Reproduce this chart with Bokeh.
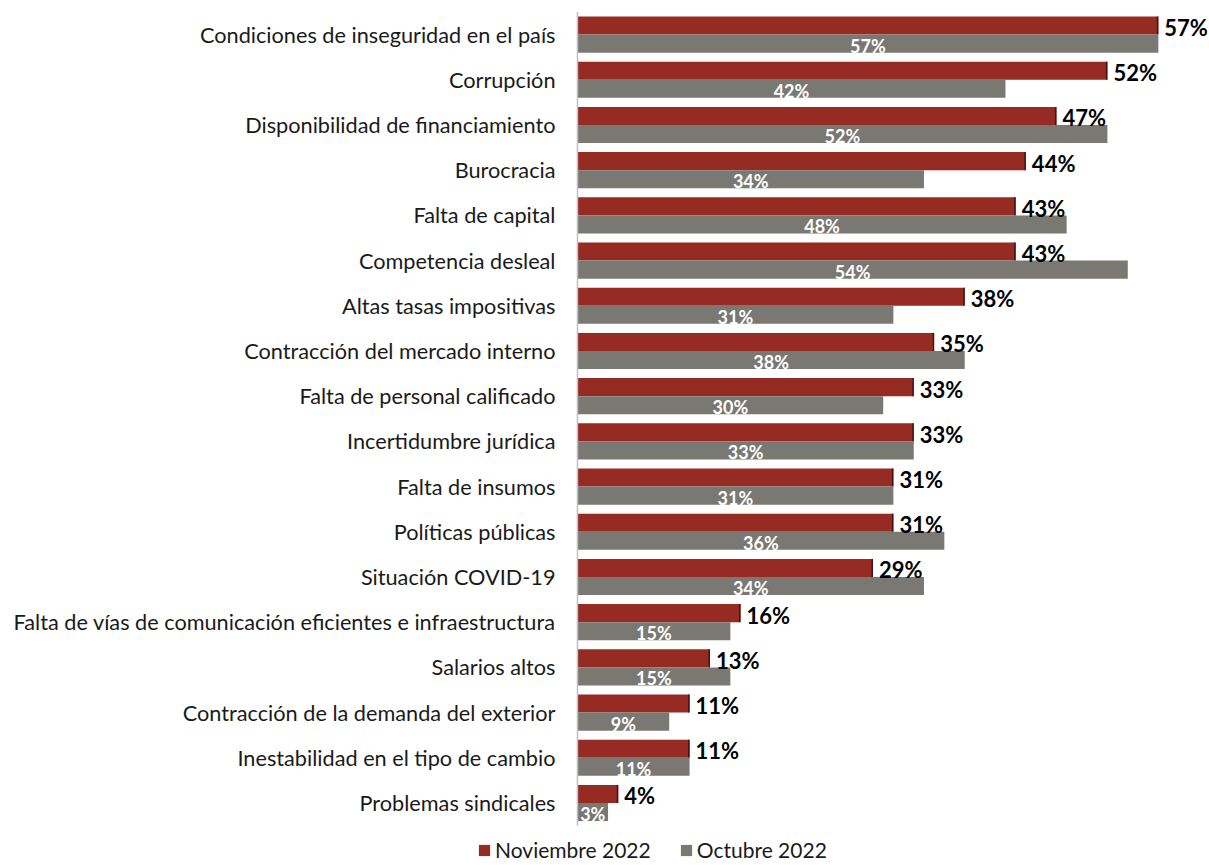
from bokeh.plotting import figure
from bokeh.models import ColumnDataSource, Range1d, Legend, LegendItem
from bokeh.core.properties import value
from bokeh.embed import file_html
from bokeh.resources import INLINE

categories = [
    "Condiciones de inseguridad en el país",
    "Corrupción",
    "Disponibilidad de financiamiento",
    "Burocracia",
    "Falta de capital",
    "Competencia desleal",
    "Altas tasas impositivas",
    "Contracción del mercado interno",
    "Falta de personal calificado",
    "Incertidumbre jurídica",
    "Falta de insumos",
    "Políticas públicas",
    "Situación COVID-19",
    "Falta de vías de comunicación eficientes e infraestructura",
    "Salarios altos",
    "Contracción de la demanda del exterior",
    "Inestabilidad en el tipo de cambio",
    "Problemas sindicales",
]
noviembre_2022 = [57, 52, 47, 44, 43, 43, 38, 35, 33, 33, 31, 31, 29, 16, 13, 11, 11, 4]
octubre_2022 = [57, 42, 52, 34, 48, 54, 31, 38, 30, 33, 31, 36, 34, 15, 15, 9, 11, 3]
series_names = ["Noviembre 2022", "Octubre 2022"]

RED = "#952B22"
GRAY = "#7A7873"
FONT = "Lato"

n = len(categories)
pos = [n - 1 - i for i in range(n)]  # top category highest

src = ColumnDataSource(dict(
    y=pos,
    cat=categories,
    base=[0] * n,
    y_nov=[y + 0.2 for y in pos],
    y_oct=[y - 0.2 for y in pos],
    nov=noviembre_2022,
    oct=octubre_2022,
    oct_half=[v / 2 for v in octubre_2022],
    nov_edge=[v - 0.15 for v in noviembre_2022],
    nov_lbl=[f"{v}%" for v in noviembre_2022],
    oct_lbl=[f"{v}%" for v in octubre_2022],
))

p = figure(
    width=1209, height=865,
    y_range=Range1d(-1.383, n - 0.5 + 0.254),
    x_range=Range1d(-56.62, 62.02),
    output_backend="svg", toolbar_location=None,
    min_border_left=0, min_border_right=0, min_border_top=0, min_border_bottom=0,
)

r_nov = p.hbar(y="y_nov", left="base", right="nov", height=0.4,
               source=src, fill_color=RED, line_color=None)
p.hbar(y="y_nov", left="nov_edge", right="nov", height=0.4,
       source=src, fill_color="#4A1510", line_color=None)
r_oct = p.hbar(y="y_oct", left="base", right="oct", height=0.4,
               source=src, fill_color=GRAY, line_color=None)

# category axis line
p.segment(x0=[0], y0=[min(pos) - 0.5], x1=[0], y1=[max(pos) + 0.5],
          line_color="#BFBFBF", line_width=1.5)

# category labels
p.text(x="base", y="y", text="cat", source=src,
       x_offset=-22, text_align="right", text_baseline="middle",
       text_font=value(FONT), text_font_size="21.7px", text_color="#1a1a1a")

p.text(x="nov", y="y_nov", text="nov_lbl", source=src,
       x_offset=6, y_offset=2, text_align="left", text_baseline="middle",
       text_font=value(FONT), text_font_size="22px", text_font_style="bold",
       text_color="#000000")
p.text(x="oct_half", y="y_oct", text="oct_lbl", source=src,
       y_offset=2, text_align="center", text_baseline="middle",
       text_font=value(FONT), text_font_size="18px", text_font_style="bold",
       text_color="#FFFFFF")

p.xaxis.visible = False
p.yaxis.visible = False
p.xgrid.visible = False
p.ygrid.visible = False
p.outline_line_color = None

legend = Legend(items=[LegendItem(label=series_names[0], renderers=[r_nov]),
                       LegendItem(label=series_names[1], renderers=[r_oct])],
                orientation="horizontal", location=(477, 3),
                label_text_font=FONT, label_text_font_size="21px",
                label_text_color="#1a1a1a",
                glyph_width=14, glyph_height=14, spacing=28,
                padding=0, margin=0, border_line_color=None,
                background_fill_alpha=0, label_standoff=4)
p.add_layout(legend, "center")

open("out.html", "w").write(file_html(p, INLINE))
